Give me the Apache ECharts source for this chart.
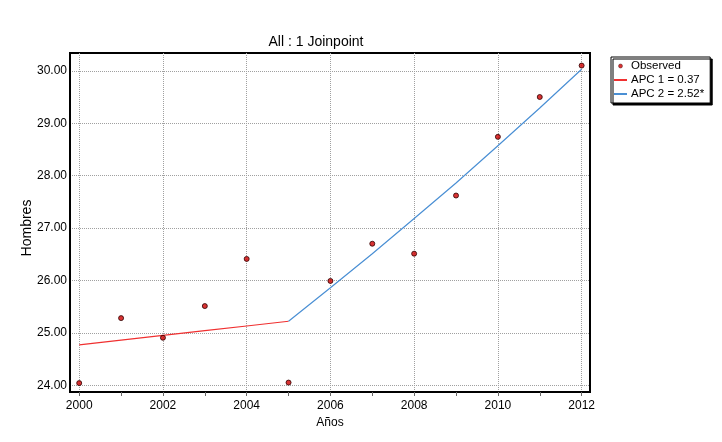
<!DOCTYPE html>
<html><head><meta charset="utf-8">
<script src="https://cdn.jsdelivr.net/npm/echarts@6/dist/echarts.min.js"></script>
<style>html,body{margin:0;padding:0;background:#fff}#c{width:722px;height:442px}</style>
</head><body><div id="c"></div>
<script>
const years = [2000,2001,2002,2003,2004,2005,2006,2007,2008,2009,2010,2011,2012];
const observed = [24.04,25.28,24.905,25.51,26.41,24.05,25.99,26.70,26.51,27.62,28.74,29.50,30.10];
const fitYears1 = [2000,2001,2002,2003,2004,2005];
const fit1 = [24.77,24.86,24.95,25.04,25.13,25.22];
const fitYears2 = [2005,2006,2007,2008,2009,2010,2011,2012];
const fit2 = [25.22,25.86,26.51,27.18,27.86,28.57,29.29,30.03];
const xLabelValues = [2000,2002,2004,2006,2008,2010,2012];
const xMinorValues = [2001,2003,2005,2007,2009,2011];
const yTickValues = [24,25,26,27,28,29,30];
const seriesNames = ['Observed','APC 1 = 0.37','APC 2 = 2.52*'];
const titleText = 'All : 1 Joinpoint';
const xName = 'Años', yName = 'Hombres';

const font = 'Liberation Sans, Arial, sans-serif';
const xMin = 1999.78, xMax = 2012.2;
const chart = echarts.init(document.getElementById('c'));
chart.setOption({
  animation:false,
  backgroundColor:'#fff',
  title:{text:titleText,left:311,top:30,textAlign:'center',textStyle:{fontFamily:font,fontSize:14,fontWeight:'normal',color:'#000'}},
  legend:{
    orient:'vertical',left:611,top:57,width:96,
    data:[
      {name:seriesNames[0],icon:'path://M0,0 M13,8 M4.5,4 L5,2.5 L6.5,2 L8,2.5 L8.5,4 L8,5.5 L6.5,6 L5,5.5 Z',itemStyle:{color:'#d00000',borderColor:'#300000',borderWidth:0.5}},
      {name:seriesNames[1],itemStyle:{opacity:0}},
      {name:seriesNames[2],itemStyle:{opacity:0}}
    ],
    backgroundColor:'#fff',borderColor:'#000',borderWidth:1,
    shadowColor:'#000',shadowOffsetX:2,shadowOffsetY:2,shadowBlur:0,
    padding:[3,6,3,2],itemGap:2,itemWidth:13,itemHeight:8,
    textStyle:{fontFamily:font,fontSize:11.5,color:'#000',padding:[0,0,0,-1]}
  },
  grid:{left:70,right:132,top:53,bottom:50,show:true,borderColor:'#000',borderWidth:2,backgroundColor:'#fff'},
  xAxis:[{
    type:'value',min:xMin,max:xMax,
    name:xName,nameLocation:'middle',nameGap:25,
    nameTextStyle:{fontFamily:font,fontSize:12,color:'#000'},
    axisLine:{show:true,lineStyle:{color:'#000',width:2}},
    axisTick:{show:true,length:4,customValues:xLabelValues,lineStyle:{color:'#666'}},
    axisLabel:{customValues:xLabelValues,fontFamily:font,fontSize:12,color:'#000',margin:8,formatter:v=>String(v)},
    splitLine:{show:true,lineStyle:{color:'#a0a0a0',type:'dotted',width:1}}
  },{
    type:'value',min:xMin,max:xMax,position:'bottom',
    axisLine:{show:false},
    axisTick:{show:true,length:4,customValues:xMinorValues,lineStyle:{color:'#666'}},
    axisLabel:{show:false},
    splitLine:{show:false}
  }],
  yAxis:{
    type:'value',min:23.87,max:30.34,
    name:yName,nameLocation:'middle',nameGap:36,nameRotate:90,nameMoveOverlap:false,
    nameTextStyle:{fontFamily:font,fontSize:14,color:'#000',padding:[0,11,0,0]},
    axisLine:{show:true,lineStyle:{color:'#000',width:2}},
    axisTick:{show:false,customValues:yTickValues},
    axisLabel:{customValues:yTickValues,fontFamily:font,fontSize:12,color:'#000',margin:3,formatter:v=>v.toFixed(2)},
    splitLine:{show:true,lineStyle:{color:'#a0a0a0',type:'dotted',width:1}}
  },
  series:[
    {name:seriesNames[0],type:'scatter',symbol:'circle',symbolSize:5,
     itemStyle:{color:'#d00000',borderColor:'#300000',borderWidth:1},
     data:years.map((y,i)=>[y,observed[i]]),z:5},
    {name:seriesNames[1],type:'line',symbol:'none',color:'#f03030',
     lineStyle:{color:'#f03030',width:1.2},
     data:fitYears1.map((y,i)=>[y,fit1[i]])},
    {name:seriesNames[2],type:'line',symbol:'none',color:'#4a8fd4',
     lineStyle:{color:'#4a8fd4',width:1.2},
     data:fitYears2.map((y,i)=>[y,fit2[i]])}
  ]
});
</script></body></html>
